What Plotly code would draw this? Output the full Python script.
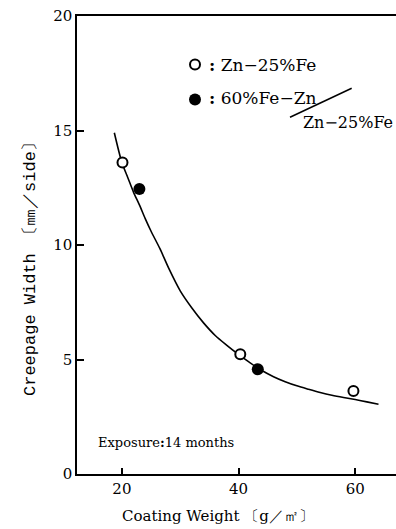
import plotly.graph_objects as go

# Data
zn25_x = [20.1, 40.3, 59.7]
zn25_y = [13.6, 5.23, 3.62]
fe60_x = [23.0, 43.3]
fe60_y = [12.45, 4.57]
curve_x = [18.7, 20, 21, 22, 23, 24, 25, 26.5, 28, 30, 32, 34, 36, 38, 40, 42, 44, 46, 48, 50, 52, 54, 56, 58, 60, 62, 64]
curve_y = [14.9, 13.6, 12.95, 12.3, 11.75, 11.15, 10.6, 9.85, 9.0, 8.0, 7.25, 6.6, 6.05, 5.62, 5.22, 4.85, 4.52,
           4.25, 4.03, 3.85, 3.7, 3.56, 3.44, 3.34, 3.25, 3.15, 3.05]
x_ticks = [20, 40, 60]
y_ticks = [0, 5, 10, 15, 20]

SERIF = "DejaVu Serif"
fig = go.Figure()
fig.add_trace(go.Scatter(x=curve_x, y=curve_y, mode="lines",
                         line=dict(color="black", width=1.6, shape="spline", smoothing=0.8),
                         showlegend=False, hoverinfo="skip"))
fig.add_trace(go.Scatter(x=zn25_x, y=zn25_y, mode="markers",
                         marker=dict(symbol="circle", size=10, color="white", line=dict(color="black", width=2)),
                         showlegend=False))
fig.add_trace(go.Scatter(x=fe60_x, y=fe60_y, mode="markers",
                         marker=dict(symbol="circle", size=12, color="black", line=dict(color="black", width=0)),
                         showlegend=False))

L, T, B = 77, 16, 474
W = 396 - L
H = B - T
def px(X): return (X - L) / W
def py(Y): return (B - Y) / H

shapes = [
    dict(type="circle", xref="paper", yref="paper", xsizemode="pixel", ysizemode="pixel",
         xanchor=px(195), yanchor=py(64.5), x0=-5, x1=5, y0=-5, y1=5,
         line=dict(color="black", width=2), fillcolor="white"),
    dict(type="circle", xref="paper", yref="paper", xsizemode="pixel", ysizemode="pixel",
         xanchor=px(195), yanchor=py(99.5), x0=-6, x1=6, y0=-6, y1=6,
         line=dict(color="black", width=0), fillcolor="black"),
    dict(type="line", xref="paper", yref="paper", x0=px(290), y0=py(117.3), x1=px(351.7), y1=py(88.3),
         line=dict(color="black", width=1.5)),
]

ann = [
    dict(text="<b>:</b> Zn−25%Fe", x=px(207), y=py(65), xanchor="left", size=17),
    dict(text="<b>:</b> 60%Fe−Zn", x=px(207), y=py(98), xanchor="left", size=17),
    dict(text="Zn−25%Fe", x=px(301), y=py(122), xanchor="left", size=16),
    dict(text="Exposure<b>:</b>14 months", x=px(96), y=py(442), xanchor="left", size=13),
    dict(text="Coating Weight 〔g／㎡〕", x=px(218), y=py(516), xanchor="center", size=15),
]
annotations = []
for a in ann:
    annotations.append(dict(text=a["text"], x=a["x"], y=a["y"], xref="paper", yref="paper",
                            xanchor=a["xanchor"], yanchor="middle", showarrow=False,
                            font=dict(family=SERIF, size=a["size"], color="black")))
annotations.append(dict(text="Creepage Width 〔㎜／side〕", x=px(30), y=py(265), xref="paper", yref="paper",
                        xanchor="center", yanchor="middle", textangle=-90, showarrow=False,
                        font=dict(family="Liberation Mono", size=17, color="black")))

fig.update_layout(
    width=396, height=529,
    margin=dict(l=L, r=0, t=T, b=529 - B, pad=0),
    paper_bgcolor="white", plot_bgcolor="white",
    shapes=shapes, annotations=annotations,
    xaxis=dict(range=[12.3, 67.0], tickvals=x_ticks, ticktext=[str(v) for v in x_ticks],
               ticks="inside", ticklen=6, tickwidth=1.5, tickcolor="black", automargin=False,
               showline=True, linecolor="black", linewidth=1.5, mirror=True, showgrid=False, zeroline=False,
               tickfont=dict(family=SERIF, size=15, color="black")),
    yaxis=dict(range=[0, 20], tickvals=y_ticks, ticktext=[str(v) for v in y_ticks],
               ticks="inside", ticklen=7, tickwidth=1.5, tickcolor="black", automargin=False,
               showline=True, linecolor="black", linewidth=1.5, mirror=False, showgrid=False, zeroline=False,
               tickfont=dict(family=SERIF, size=15, color="black")),
)
fig.write_html("out.html", config={"displayModeBar": False},
               post_script="document.body.style.margin='0';document.body.style.padding='0';document.body.style.overflow='hidden';")
